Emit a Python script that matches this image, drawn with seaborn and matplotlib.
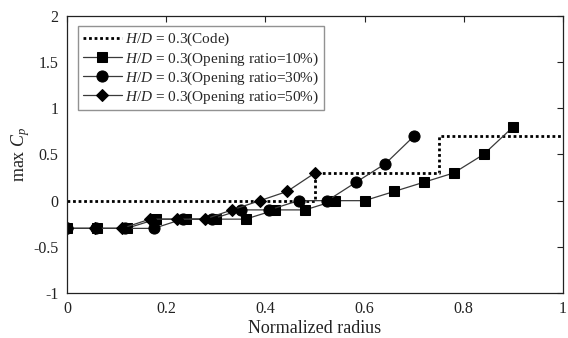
import matplotlib
matplotlib.use("Agg")
import matplotlib.pyplot as plt
import seaborn as sns

# Code-specified step profile
code_x = [0.0, 0.5, 0.75, 1.0]
code_y = [0.0, 0.3, 0.7, 0.7]

# Opening ratio = 10%
r10_x = [0.0, 0.06, 0.12, 0.18, 0.24, 0.30, 0.36, 0.42, 0.48, 0.54, 0.60, 0.66, 0.72, 0.78, 0.84, 0.90]
r10_y = [-0.3, -0.3, -0.3, -0.2, -0.2, -0.2, -0.2, -0.1, -0.1, 0.0, 0.0, 0.1, 0.2, 0.3, 0.5, 0.8]

# Opening ratio = 30%
r30_x = [0.0, 0.058, 0.117, 0.175, 0.233, 0.292, 0.35, 0.408, 0.467, 0.525, 0.583, 0.642, 0.70]
r30_y = [-0.3, -0.3, -0.3, -0.3, -0.2, -0.2, -0.1, -0.1, 0.0, 0.0, 0.2, 0.4, 0.7]

# Opening ratio = 50%
r50_x = [0.0, 0.056, 0.111, 0.167, 0.222, 0.278, 0.333, 0.389, 0.444, 0.5]
r50_y = [-0.3, -0.3, -0.3, -0.2, -0.2, -0.2, -0.1, 0.0, 0.1, 0.3]

labels = [
    r"$H/D$ = 0.3(Code)",
    r"$H/D$ = 0.3(Opening ratio=10%)",
    r"$H/D$ = 0.3(Opening ratio=30%)",
    r"$H/D$ = 0.3(Opening ratio=50%)",
]

sns.set_theme(style="white")
plt.rcParams["font.family"] = ["Liberation Serif", "DejaVu Serif"]
plt.rcParams["mathtext.fontset"] = "custom"
plt.rcParams["mathtext.rm"] = "Liberation Serif"
plt.rcParams["mathtext.it"] = "Liberation Serif:italic"
plt.rcParams["axes.unicode_minus"] = False

fig = plt.figure(figsize=(5.68, 3.38), dpi=100)
ax = fig.add_axes([0.118, 0.133, 0.873, 0.820])

line_kw = dict(color="#3a3a3a", linewidth=0.9, markeredgecolor="black",
               markerfacecolor="black", estimator=None, sort=False, ax=ax)

sns.lineplot(x=code_x, y=code_y, drawstyle="steps-post", color="black",
             linestyle=(0, (1, 1)), linewidth=2.0, label=labels[0],
             estimator=None, sort=False, ax=ax)
sns.lineplot(x=r10_x, y=r10_y, marker="s", markersize=7.5, label=labels[1], **line_kw)
sns.lineplot(x=r30_x, y=r30_y, marker="o", markersize=8, label=labels[2], **line_kw)
sns.lineplot(x=r50_x, y=r50_y, marker="D", markersize=6.5, label=labels[3], **line_kw)

ax.set_xlim(0, 1)
ax.set_ylim(-1, 2)
ax.set_xticks([0, 0.2, 0.4, 0.6, 0.8, 1])
ax.set_xticklabels(["0", "0.2", "0.4", "0.6", "0.8", "1"])
ax.set_yticks([-1, -0.5, 0, 0.5, 1, 1.5, 2])
ax.set_yticklabels(["-1", "-0.5", "0", "0.5", "1", "1.5", "2"])
ax.tick_params(direction="in", top=True, right=True, length=4, width=0.8,
               labelsize=11.5, colors="#222222", pad=6)
for s in ax.spines.values():
    s.set_color("#222222")
    s.set_linewidth(0.9)

ax.set_xlabel("Normalized radius", fontsize=13, color="#222222", labelpad=2)
ax.set_ylabel(r"max $C_p$", fontsize=13, color="#222222", labelpad=1)

leg = ax.legend(loc="upper left", bbox_to_anchor=(0.022, 0.962), frameon=True,
                fancybox=False, edgecolor="#777777", fontsize=11,
                handlelength=2.6, handletextpad=0.2, borderpad=0.3,
                labelspacing=0.12, borderaxespad=0)
leg.get_frame().set_linewidth(1.0)

fig.savefig("out.png", dpi=100)
